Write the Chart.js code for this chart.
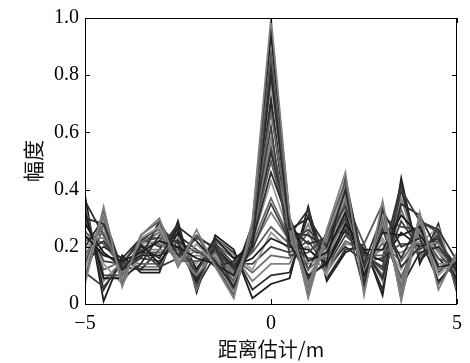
<!DOCTYPE html>
<html lang="zh">
<head>
  <meta charset="UTF-8" />
  <title>幅度 - 距离估计</title>
  <script src="https://cdn.jsdelivr.net/npm/chart.js"></script>
  <style>
    html, body {
      margin: 0;
      padding: 0;
      background: #fff;
    }
    #wrap {
      width: 470px;
      height: 363px;
    }
  </style>
</head>
<body>
  <div id="wrap"><canvas id="rangeChart" width="470" height="363"></canvas></div>

  <script>
    // 距离估计 (m), one sample every 0.5 m
    const ranges = [-5, -4.5, -4, -3.5, -3, -2.5, -2, -1.5, -1, -0.5, 0, 0.5, 1, 1.5, 2, 2.5, 3, 3.5, 4, 4.5, 5];
    const xTicks = [-5, 0, 5];
    const yTicks = [0, 0.2, 0.4, 0.6, 0.8, 1.0];

    // 幅度 (a band of curves, each listed separately)
    const s0  = [0.07, 0.34, 0.06, 0.24, 0.30, 0.13, 0.26, 0.13, 0.02, 0.29, 1.00, 0.31, 0.02, 0.26, 0.46, 0.03, 0.36, 0.01, 0.32, 0.05, 0.18];
    const s1  = [0.09, 0.33, 0.07, 0.24, 0.29, 0.13, 0.24, 0.14, 0.03, 0.27, 0.88, 0.29, 0.03, 0.25, 0.43, 0.05, 0.34, 0.02, 0.31, 0.07, 0.17];
    const s2  = [0.12, 0.32, 0.08, 0.23, 0.27, 0.14, 0.21, 0.14, 0.04, 0.26, 0.77, 0.28, 0.04, 0.24, 0.41, 0.07, 0.32, 0.03, 0.30, 0.10, 0.16];
    const s3  = [0.13, 0.31, 0.08, 0.23, 0.26, 0.14, 0.19, 0.15, 0.05, 0.25, 0.67, 0.27, 0.05, 0.23, 0.39, 0.09, 0.30, 0.05, 0.29, 0.12, 0.15];
    const s4  = [0.16, 0.30, 0.09, 0.22, 0.25, 0.15, 0.17, 0.16, 0.07, 0.24, 0.58, 0.26, 0.07, 0.22, 0.37, 0.11, 0.28, 0.07, 0.27, 0.14, 0.14];
    const s5  = [0.17, 0.28, 0.10, 0.22, 0.23, 0.15, 0.15, 0.16, 0.08, 0.23, 0.50, 0.25, 0.08, 0.21, 0.35, 0.13, 0.26, 0.09, 0.26, 0.16, 0.13];
    const s6  = [0.19, 0.27, 0.11, 0.21, 0.22, 0.16, 0.13, 0.17, 0.09, 0.22, 0.43, 0.24, 0.10, 0.19, 0.33, 0.14, 0.23, 0.12, 0.25, 0.18, 0.12];
    const s7  = [0.22, 0.25, 0.11, 0.20, 0.21, 0.17, 0.12, 0.18, 0.10, 0.21, 0.37, 0.23, 0.12, 0.18, 0.31, 0.15, 0.21, 0.15, 0.24, 0.19, 0.11];
    const s8  = [0.23, 0.23, 0.12, 0.19, 0.19, 0.18, 0.10, 0.18, 0.11, 0.20, 0.32, 0.22, 0.14, 0.17, 0.29, 0.16, 0.19, 0.18, 0.22, 0.21, 0.10];
    const s9  = [0.25, 0.21, 0.13, 0.18, 0.18, 0.19, 0.09, 0.19, 0.12, 0.18, 0.27, 0.21, 0.16, 0.16, 0.27, 0.17, 0.17, 0.21, 0.21, 0.22, 0.09];
    const s10 = [0.28, 0.18, 0.13, 0.17, 0.17, 0.20, 0.08, 0.20, 0.13, 0.16, 0.23, 0.20, 0.19, 0.14, 0.26, 0.18, 0.15, 0.25, 0.20, 0.23, 0.08];
    const s11 = [0.29, 0.15, 0.14, 0.16, 0.15, 0.22, 0.07, 0.21, 0.14, 0.14, 0.20, 0.18, 0.22, 0.13, 0.24, 0.18, 0.12, 0.29, 0.19, 0.24, 0.07];
    const s12 = [0.31, 0.12, 0.15, 0.14, 0.14, 0.23, 0.06, 0.21, 0.16, 0.11, 0.17, 0.16, 0.25, 0.12, 0.22, 0.19, 0.10, 0.33, 0.17, 0.25, 0.06];
    const s13 = [0.34, 0.08, 0.15, 0.13, 0.13, 0.25, 0.05, 0.22, 0.17, 0.08, 0.14, 0.14, 0.28, 0.11, 0.21, 0.20, 0.08, 0.37, 0.16, 0.26, 0.05];
    const s14 = [0.35, 0.05, 0.16, 0.12, 0.12, 0.27, 0.05, 0.23, 0.18, 0.05, 0.10, 0.11, 0.31, 0.09, 0.19, 0.20, 0.05, 0.40, 0.15, 0.27, 0.05];
    const s15 = [0.38, 0.01, 0.17, 0.11, 0.11, 0.29, 0.04, 0.24, 0.19, 0.02, 0.07, 0.09, 0.34, 0.08, 0.18, 0.21, 0.03, 0.44, 0.14, 0.28, 0.04];
    // curves that cut across the band in another order
    const m0  = [0.30, 0.28, 0.12, 0.20, 0.16, 0.27, 0.22, 0.15, 0.06, 0.21, 0.80, 0.26, 0.30, 0.20, 0.40, 0.07, 0.33, 0.20, 0.23, 0.08, 0.15];
    const m1  = [0.11, 0.06, 0.14, 0.22, 0.27, 0.21, 0.11, 0.22, 0.04, 0.25, 0.62, 0.17, 0.18, 0.24, 0.34, 0.17, 0.13, 0.40, 0.29, 0.25, 0.06];
    const m2  = [0.20, 0.30, 0.09, 0.14, 0.24, 0.24, 0.19, 0.13, 0.15, 0.22, 0.46, 0.28, 0.09, 0.15, 0.44, 0.12, 0.27, 0.06, 0.18, 0.20, 0.12];
    const m3  = [0.33, 0.10, 0.10, 0.19, 0.13, 0.16, 0.24, 0.19, 0.12, 0.19, 0.35, 0.22, 0.26, 0.19, 0.30, 0.05, 0.30, 0.27, 0.26, 0.11, 0.17];
    const m4  = [0.15, 0.20, 0.16, 0.23, 0.20, 0.26, 0.09, 0.20, 0.09, 0.28, 0.94, 0.30, 0.12, 0.25, 0.25, 0.19, 0.09, 0.35, 0.31, 0.18, 0.10];
    const m5  = [0.26, 0.14, 0.07, 0.17, 0.28, 0.19, 0.14, 0.23, 0.17, 0.12, 0.25, 0.19, 0.20, 0.10, 0.38, 0.09, 0.22, 0.10, 0.21, 0.27, 0.07];
    const m6  = [0.36, 0.24, 0.13, 0.12, 0.19, 0.28, 0.06, 0.17, 0.07, 0.26, 0.72, 0.24, 0.33, 0.13, 0.20, 0.15, 0.16, 0.42, 0.15, 0.22, 0.13];
    const m7  = [0.10, 0.27, 0.11, 0.21, 0.25, 0.14, 0.21, 0.16, 0.14, 0.23, 0.55, 0.27, 0.06, 0.22, 0.36, 0.21, 0.35, 0.02, 0.28, 0.07, 0.16];
    const m8  = [0.24, 0.17, 0.15, 0.18, 0.22, 0.20, 0.16, 0.14, 0.10, 0.27, 0.97, 0.30, 0.15, 0.18, 0.32, 0.10, 0.25, 0.24, 0.27, 0.13, 0.14];
    const m9  = [0.14, 0.31, 0.12, 0.16, 0.29, 0.17, 0.23, 0.20, 0.05, 0.24, 0.84, 0.27, 0.21, 0.23, 0.42, 0.14, 0.31, 0.13, 0.20, 0.23, 0.11];
    const m10 = [0.32, 0.09, 0.09, 0.21, 0.14, 0.25, 0.12, 0.23, 0.16, 0.20, 0.69, 0.21, 0.10, 0.14, 0.28, 0.19, 0.19, 0.31, 0.24, 0.16, 0.09];
    const m11 = [0.18, 0.22, 0.14, 0.23, 0.23, 0.22, 0.18, 0.18, 0.13, 0.23, 0.53, 0.25, 0.24, 0.20, 0.35, 0.08, 0.28, 0.16, 0.29, 0.26, 0.15];

    const allSeries = [s0, m0, s1, m8, s2, m1, s3, m9, s4, m2, s5, m10, s6, m3, s7, m11,
                       s8, m4, s9, s10, m5, s11, s12, m6, s13, s14, m7, s15];
    const grays = ["#808080", "#2a2a2a", "#5a5a5a", "#1c1c1c", "#9a9a9a", "#404040", "#6a6a6a", "#303030"];

    const datasets = allSeries.map((vals, i) => ({
      label: "c" + i,
      data: ranges.map((x, j) => ({ x: x, y: vals[j] })),
      borderColor: grays[i % grays.length],
      borderWidth: 1.8,
      pointRadius: 0,
      tension: 0,
      fill: false
    }));

    // box round the plot with inward ticks on all four sides
    const boxTicks = {
      id: "boxTicks",
      afterDraw(chart) {
        const { ctx, chartArea: a, scales } = chart;
        const len = 5;
        ctx.save();
        ctx.strokeStyle = "#000";
        ctx.lineWidth = 1;
        ctx.strokeRect(a.left + 0.5, a.top + 0.5, a.right - a.left - 1, a.bottom - a.top);
        ctx.beginPath();
        xTicks.forEach(v => {
          const px = Math.round(scales.x.getPixelForValue(v)) + 0.5;
          ctx.moveTo(px, a.bottom); ctx.lineTo(px, a.bottom - len);
          ctx.moveTo(px, a.top); ctx.lineTo(px, a.top + len);
        });
        yTicks.forEach(v => {
          const py = Math.round(scales.y.getPixelForValue(v)) + 0.5;
          ctx.moveTo(a.left, py); ctx.lineTo(a.left + len, py);
          ctx.moveTo(a.right, py); ctx.lineTo(a.right - len, py);
        });
        ctx.stroke();
        ctx.restore();
      }
    };

    new Chart(document.getElementById("rangeChart"), {
      type: "line",
      data: { datasets: datasets },
      options: {
        responsive: false,
        animation: false,
        events: [],
        layout: { padding: { top: 16, right: 9, left: 0, bottom: 0 } },
        plugins: {
          legend: { display: false },
          tooltip: { enabled: false }
        },
        scales: {
          x: {
            type: "linear",
            min: -5,
            max: 5,
            grid: { display: false, drawTicks: false },
            border: { display: false },
            afterBuildTicks: s => { s.ticks = xTicks.map(v => ({ value: v })); },
            afterFit: s => { s.height = 59; },
            ticks: {
              padding: 8,
              maxRotation: 0,
              color: "#000",
              font: { family: "'Liberation Serif'", size: 20 },
              callback: v => (v < 0 ? "\u2212" + Math.abs(v) : String(v))
            },
            title: {
              display: true,
              text: "距离估计/m",
              color: "#111",
              padding: { top: 0, bottom: 2 },
              font: { family: "'Noto Sans CJK SC'", size: 20 }
            }
          },
          y: {
            min: 0,
            max: 1,
            grid: { display: false, drawTicks: false },
            border: { display: false },
            afterBuildTicks: s => { s.ticks = yTicks.map(v => ({ value: v })); },
            afterFit: s => { s.width = 85; },
            ticks: {
              padding: 6,
              color: "#000",
              font: { family: "'Liberation Serif'", size: 20 },
              callback: v => (v === 0 ? "0" : v.toFixed(1))
            },
            title: {
              display: true,
              text: "幅度",
              color: "#111",
              padding: { top: 20, bottom: 0 },
              font: { family: "'Noto Sans CJK SC'", size: 21 }
            }
          }
        }
      },
      plugins: [boxTicks]
    });
  </script>
</body>
</html>
